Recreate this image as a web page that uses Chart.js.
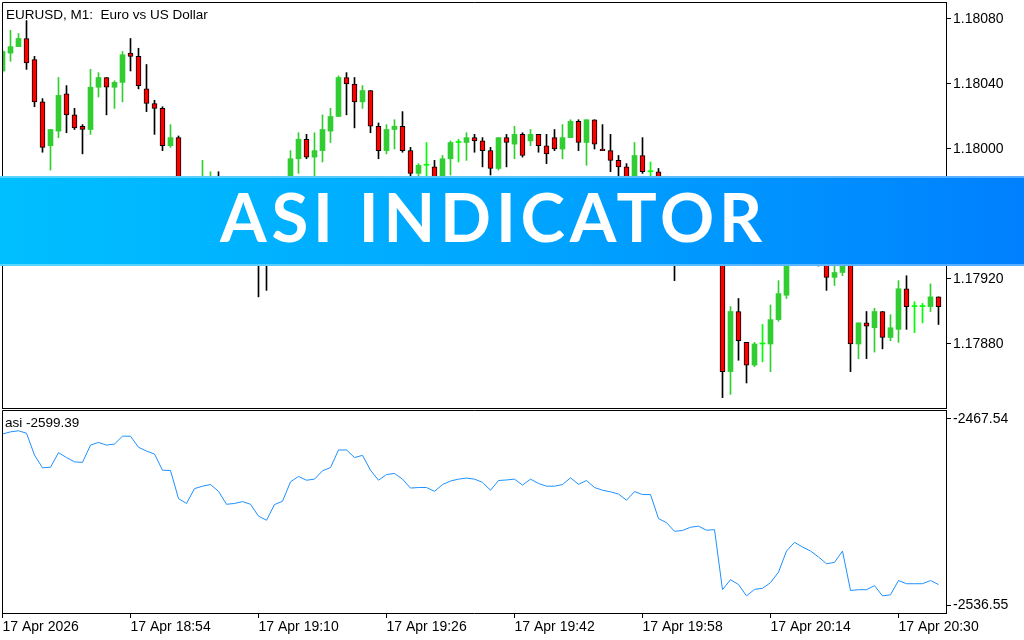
<!DOCTYPE html>
<html>
<head>
<meta charset="utf-8">
<script src="https://cdn.jsdelivr.net/npm/chart.js@4.4.1/dist/chart.umd.min.js"></script>
<style>
html,body{margin:0;padding:0;background:#fff;}
#wrap{position:relative;width:1024px;height:640px;overflow:hidden;background:#fff;}
#c1{position:absolute;left:0;top:0;}
#c2{position:absolute;left:0;top:409px;}
.lbl{position:absolute;font-family:'Liberation Sans',Arial,sans-serif;font-size:13.5px;line-height:1;color:#000;white-space:pre;}
#banner{position:absolute;left:0;top:176px;width:1024px;height:90px;box-sizing:border-box;
  background:linear-gradient(90deg,#00BFFF 0%,#00A6FF 50%,#0080FF 100%);
  border-top:2px solid rgba(255,255,255,0.35);border-bottom:2px solid rgba(255,255,255,0.35);}
#bt{position:absolute;color:#fff;white-space:pre;}
</style>
</head>
<body>
<div id="wrap">
  <canvas id="c1" width="1024" height="410"></canvas>
  <canvas id="c2" width="1024" height="231"></canvas>
  <div class="lbl" id="title" style="left:6px;top:8px;"></div>
  <div class="lbl" id="asiLbl" style="left:5px;top:416px;"></div>
  <div id="banner"></div>
  <div id="bt"></div>
</div>
<script>
// ---------- data ----------
const chartTitle = "EURUSD, M1:  Euro vs US Dollar";
const asiTitle = "asi -2599.39";
const bannerText = "ASI INDICATOR";

const opens = [1.18048,1.18059,1.18063,1.18068,1.18055,1.18029,1.18002,1.18011,1.18034,1.18021,
1.18014,1.18012,1.18038,1.18044,1.18038,1.18041,1.18059,1.18057,1.18037,1.18028,
1.18025,1.18002,1.18007,1.17972,1.17966,1.17976,1.17979,1.17983,1.17974,1.17959,
1.17960,1.17963,1.17958,1.17941,1.17935,1.17956,1.17961,1.17994,1.18006,1.17995,
1.17999,1.18011,1.18020,1.18044,1.18040,1.18029,1.18036,1.18014,1.17999,1.18012,
1.18014,1.17999,1.17985,1.17990,1.17989,1.17980,1.17994,1.18004,1.18004,1.18007,
1.18005,1.17999,1.17988,1.18007,1.18003,1.18009,1.18005,1.18009,1.18002,1.18007,
1.18000,1.18007,1.18017,1.18004,1.18018,1.18000,1.17999,1.17993,1.17989,1.17978,
1.17996,1.17986,1.17986,1.17959,1.17953,1.17944,1.17945,1.17950,1.17951,1.17946,
1.17947,1.17863,1.17900,1.17881,1.17867,1.17880,1.17880,1.17895,1.17910,1.17938,
1.17947,1.17941,1.17937,1.17930,1.17921,1.17924,1.17938,1.17880,1.17893,1.17890,
1.17900,1.17884,1.17889,1.17914,1.17903,1.17903,1.17903,1.17909];
const highs = [1.18061,1.18073,1.18071,1.18079,1.18057,1.18031,1.18012,1.18044,1.18039,1.18025,
1.18015,1.18049,1.18047,1.18044,1.18042,1.18060,1.18068,1.18062,1.18052,1.18030,
1.18026,1.18015,1.18008,1.17975,1.17978,1.17993,1.17986,1.17986,1.17976,1.17965,
1.17967,1.17966,1.17961,1.17945,1.17958,1.17966,1.17999,1.18010,1.18009,1.18010,
1.18021,1.18025,1.18045,1.18047,1.18044,1.18039,1.18036,1.18016,1.18015,1.18018,
1.18023,1.18001,1.17991,1.18004,1.17993,1.17996,1.18005,1.18006,1.18010,1.18009,
1.18007,1.18001,1.18007,1.18009,1.18014,1.18010,1.18012,1.18009,1.18009,1.18012,
1.18015,1.18018,1.18018,1.18018,1.18018,1.18015,1.18009,1.17996,1.17991,1.18004,
1.18007,1.17992,1.17988,1.17962,1.17956,1.17950,1.17953,1.17955,1.17954,1.17950,
1.17949,1.17903,1.17908,1.17881,1.17881,1.17892,1.17904,1.17919,1.17941,1.17950,
1.17949,1.17944,1.17939,1.17933,1.17930,1.17941,1.17939,1.17893,1.17900,1.17902,
1.17900,1.17898,1.17919,1.17922,1.17906,1.17905,1.17917,1.17909];
const lows = [1.18047,1.18054,1.18063,1.18049,1.18026,1.17998,1.17987,1.18007,1.18010,1.18012,
1.17997,1.18009,1.18032,1.18021,1.18025,1.18029,1.18048,1.18037,1.18023,1.18009,
1.17999,1.18001,1.17969,1.17961,1.17964,1.17975,1.17977,1.17970,1.17956,1.17954,
1.17957,1.17953,1.17909,1.17913,1.17930,1.17950,1.17958,1.17985,1.17994,1.17983,
1.17992,1.18004,1.18020,1.18021,1.18013,1.18025,1.18010,1.17994,1.17997,1.18000,
1.17998,1.17983,1.17982,1.17983,1.17977,1.17977,1.17984,1.17992,1.17993,1.17998,
1.17989,1.17984,1.17987,1.17989,1.17994,1.17995,1.18002,1.17998,1.17991,1.17999,
1.17994,1.18007,1.17999,1.17990,1.18000,1.17999,1.17986,1.17983,1.17975,1.17976,
1.17985,1.17983,1.17956,1.17949,1.17919,1.17939,1.17943,1.17947,1.17943,1.17941,
1.17847,1.17849,1.17870,1.17856,1.17866,1.17869,1.17863,1.17894,1.17908,1.17935,
1.17938,1.17933,1.17928,1.17913,1.17916,1.17922,1.17863,1.17871,1.17871,1.17875,
1.17877,1.17882,1.17881,1.17889,1.17887,1.17893,1.17900,1.17892];
const closes = [1.18060,1.18063,1.18068,1.18053,1.18029,1.18001,1.18012,1.18033,1.18021,1.18013,
1.18012,1.18038,1.18044,1.18038,1.18041,1.18058,1.18057,1.18039,1.18028,1.18025,
1.18002,1.18007,1.17972,1.17966,1.17976,1.17979,1.17981,1.17974,1.17959,1.17960,
1.17963,1.17958,1.17941,1.17935,1.17956,1.17961,1.17994,1.18006,1.17995,1.17999,
1.18012,1.18020,1.18044,1.18040,1.18029,1.18036,1.18014,1.17999,1.18012,1.18014,
1.17999,1.17985,1.17990,1.17990,1.17980,1.17994,1.18004,1.18004,1.18007,1.18005,
1.17999,1.17988,1.18007,1.18004,1.18009,1.17996,1.18009,1.18002,1.17997,1.18000,
1.18007,1.18017,1.18004,1.18018,1.18003,1.17999,1.17993,1.17989,1.17978,1.17996,
1.17986,1.17986,1.17959,1.17953,1.17944,1.17945,1.17950,1.17951,1.17946,1.17947,
1.17863,1.17900,1.17882,1.17867,1.17880,1.17880,1.17895,1.17911,1.17938,1.17947,
1.17941,1.17937,1.17930,1.17921,1.17924,1.17938,1.17880,1.17893,1.17891,1.17900,
1.17884,1.17890,1.17914,1.17903,1.17903,1.17903,1.17909,1.17903];
const asiValues = [-2473.1,-2472.3,-2471.9,-2472.8,-2480.9,-2485.6,-2485.4,-2480.0,-2481.8,-2483.4,
-2483.6,-2477.2,-2476.2,-2477.2,-2476.8,-2473.9,-2473.9,-2478.0,-2479.4,-2480.5,
-2486.5,-2486.6,-2497.0,-2498.8,-2493.3,-2492.4,-2491.8,-2494.3,-2499.1,-2498.8,
-2498.1,-2499.1,-2503.5,-2505.0,-2499.2,-2498.0,-2490.8,-2488.8,-2490.2,-2489.8,
-2486.7,-2485.5,-2479.0,-2479.0,-2481.8,-2481.0,-2486.5,-2490.2,-2488.1,-2487.7,
-2489.8,-2493.1,-2492.9,-2492.9,-2494.3,-2491.8,-2490.5,-2489.8,-2489.4,-2489.8,
-2491.0,-2493.9,-2490.3,-2490.1,-2489.8,-2492.0,-2489.8,-2491.4,-2492.4,-2492.4,
-2491.8,-2489.3,-2491.7,-2490.3,-2492.9,-2493.9,-2494.5,-2495.3,-2497.6,-2494.4,
-2495.5,-2495.5,-2504.4,-2505.9,-2509.1,-2508.8,-2507.6,-2507.2,-2508.7,-2508.5,
-2530.7,-2527.0,-2528.8,-2533.0,-2530.6,-2530.2,-2528.1,-2524.2,-2516.4,-2513.2,
-2514.9,-2516.4,-2518.6,-2521.1,-2520.6,-2516.4,-2531.0,-2530.7,-2530.7,-2529.2,
-2533.0,-2532.6,-2527.3,-2528.5,-2528.5,-2528.5,-2527.3,-2528.8];
const priceTicks = [1.17880,1.17920,1.17960,1.18000,1.18040,1.18080];
const asiTicks = [-2536.55,-2467.54];
const timeTickIndex = [0,16,32,48,64,80,96,112];
const timeTickLabels = ["17 Apr 2026","17 Apr 18:54","17 Apr 19:10","17 Apr 19:26","17 Apr 19:42","17 Apr 19:58","17 Apr 20:14","17 Apr 20:30"];

// ---------- styling ----------
const GREEN = '#32CD32', RED = '#FF0000', LIME = '#00FF00', BLACK = '#000000';
const FONT = "'Liberation Sans', Arial, sans-serif";
const N = opens.length;
const idx = opens.map((_, i) => i);
const bodyColors = idx.map(i => closes[i] > opens[i] ? GREEN : (closes[i] < opens[i] ? RED : LIME));
const bodyBorders = idx.map(i => closes[i] < opens[i] ? 1 : 0);
const wickColors = idx.map(i => closes[i] > opens[i] ? GREEN : (closes[i] < opens[i] ? BLACK : LIME));
const X_MIN = -0.0625, X_MAX = N - 0.0625;

document.getElementById('title').textContent = chartTitle;
document.getElementById('asiLbl').textContent = asiTitle;

function fitV(s) { s.width = 78; s.paddingTop = 0; s.paddingBottom = 0; }
function fitH(s) { s.height = 27; s.paddingLeft = 0; s.paddingRight = 0; }

const boxPlugin = {
  id: 'box',
  afterDraw(chart, args, opts) {
    const {ctx, chartArea: a} = chart;
    ctx.save();
    ctx.strokeStyle = '#000'; ctx.lineWidth = 1;
    ctx.beginPath();
    ctx.moveTo(a.left + 0.5, a.bottom + (opts.bottom ? 0.5 : 0));
    ctx.lineTo(a.left + 0.5, a.top + 0.5);
    ctx.lineTo(a.right, a.top + 0.5);
    if (opts.bottom) { ctx.moveTo(a.left, a.bottom + 0.5); ctx.lineTo(a.right, a.bottom + 0.5); }
    ctx.stroke();
    ctx.restore();
  }
};

new Chart(document.getElementById('c1'), {
  type: 'bar',
  data: {
    datasets: [
      { label: 'wick', data: idx.map(i => ({x: i, y: [lows[i], highs[i]]})),
        backgroundColor: wickColors, borderWidth: 0, barThickness: 1, grouped: false, order: 2 },
      { label: 'body', data: idx.map(i => ({x: i, y: [opens[i], closes[i]]})),
        backgroundColor: bodyColors, borderColor: BLACK, borderWidth: bodyBorders, borderSkipped: false,
        barThickness: 5, minBarLength: 1, grouped: false, order: 1 }
    ]
  },
  options: {
    responsive: false, maintainAspectRatio: false, animation: false, events: [],
    layout: { autoPadding: false, padding: { left: 2, top: 2, right: 0, bottom: 2 } },
    plugins: { legend: { display: false }, tooltip: { enabled: false }, box: { bottom: true } },
    scales: {
      x: { type: 'linear', min: X_MIN, max: X_MAX, display: false, offset: false },
      y: { position: 'right', min: 1.1784061, max: 1.1809046,
        afterFit: fitV,
        afterBuildTicks: s => { s.ticks = priceTicks.map(v => ({value: v})); },
        ticks: { callback: v => Number(v).toFixed(5), color: '#000', font: { family: FONT, size: 14 }, padding: 2, autoSkip: false },
        grid: { drawOnChartArea: false, drawTicks: true, tickLength: 5, color: '#000' },
        border: { display: true, color: '#000' } }
    }
  },
  plugins: [boxPlugin]
});

new Chart(document.getElementById('c2'), {
  type: 'line',
  data: {
    datasets: [{ label: 'asi', data: idx.map(i => ({x: i, y: asiValues[i]})),
      borderColor: '#1E90FF', borderWidth: 1, pointRadius: 0, tension: 0, fill: false }]
  },
  options: {
    responsive: false, maintainAspectRatio: false, animation: false, events: [],
    layout: { autoPadding: false, padding: { left: 2, top: 1, right: 0, bottom: 0 } },
    plugins: { legend: { display: false }, tooltip: { enabled: false }, box: { bottom: false } },
    scales: {
      x: { type: 'linear', min: X_MIN, max: X_MAX, offset: false,
        afterFit: fitH,
        afterBuildTicks: s => { s.ticks = timeTickIndex.map(v => ({value: v})); },
        ticks: { align: 'start', maxRotation: 0, autoSkip: false, padding: 1,
          callback: (v, i) => timeTickLabels[i], color: '#000', font: { family: FONT, size: 14 } },
        grid: { drawOnChartArea: false, drawTicks: true, tickLength: 5, color: '#000' },
        border: { display: true, color: '#000' } },
      y: { position: 'right', min: -2539.33, max: -2464.21,
        afterFit: fitV,
        afterBuildTicks: s => { s.ticks = asiTicks.map(v => ({value: v})); },
        ticks: { callback: v => Number(v).toFixed(2), color: '#000', font: { family: FONT, size: 14 }, padding: 2, autoSkip: false },
        grid: { drawOnChartArea: false, drawTicks: true, tickLength: 5, color: '#000' },
        border: { display: true, color: '#000' } }
    }
  },
  plugins: [boxPlugin]
});

// banner text placement
(function () {
  const bt = document.getElementById('bt');
  bt.textContent = bannerText;
  const fam = "Lato, 'Open Sans', sans-serif";
  const weight = 700;
  const m2 = document.createElement('canvas').getContext('2d');
  m2.font = `${weight} 100px ${fam}`;
  const capR = m2.measureText('I').actualBoundingBoxAscent / 100;
  const fs = 49 / capR;
  m2.font = `${weight} ${fs}px ${fam}`;
  const m = m2.measureText(bannerText);
  const ink = m.actualBoundingBoxLeft + m.actualBoundingBoxRight;
  const ls = (544 - ink) / (bannerText.length - 1);
  const asc = m.fontBoundingBoxAscent, desc = m.fontBoundingBoxDescent;
  bt.style.font = `${weight} ${fs}px ${fam}`;
  bt.style.letterSpacing = ls + 'px';
  bt.style.lineHeight = (asc + desc) + 'px';
  bt.style.left = (219 + m.actualBoundingBoxLeft) + 'px';
  bt.style.top = (241.7 - asc) + 'px';
})();
</script>
</body>
</html>
